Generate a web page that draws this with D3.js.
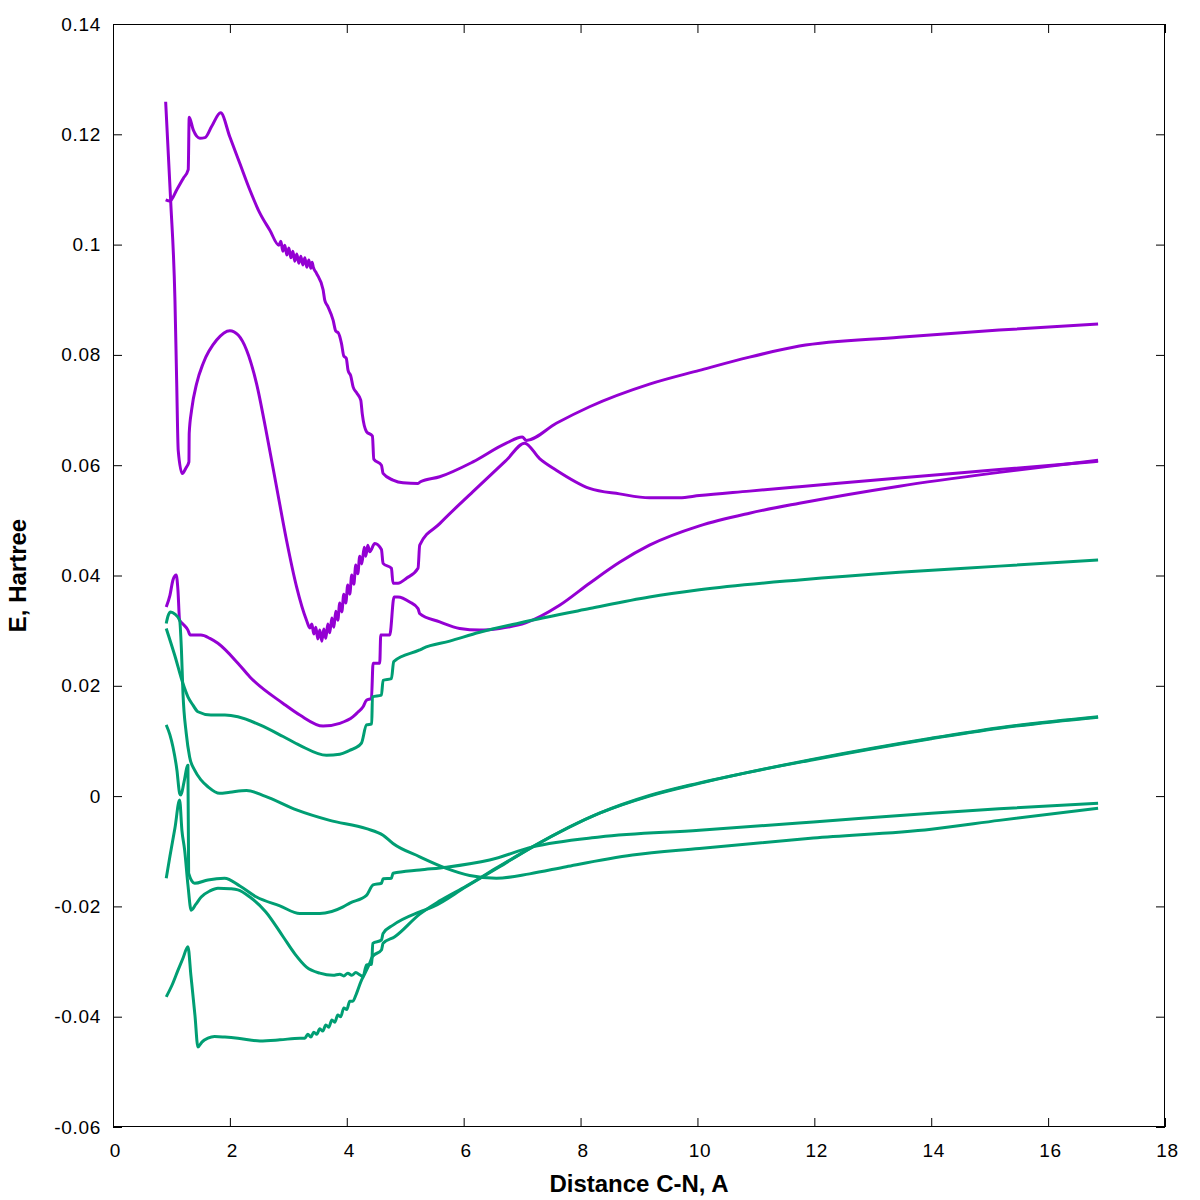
<!DOCTYPE html>
<html><head><meta charset="utf-8">
<script src="https://cdn.jsdelivr.net/npm/d3@7"></script>
<style>
html,body{margin:0;padding:0;background:#fff;}
svg{display:block;}
.tick text{font-family:"Liberation Sans",Arial,sans-serif;font-size:19px;letter-spacing:0.7px;fill:#000;}
.title{font-family:"Liberation Sans",Arial,sans-serif;font-size:24px;font-weight:bold;fill:#000;}
</style></head>
<body>
<svg id="chart" width="1200" height="1200"></svg>
<script>
// ---- Data ----
const xTicks = [0, 2, 4, 6, 8, 10, 12, 14, 16, 18];
const yTicks = [-0.06, -0.04, -0.02, 0, 0.02, 0.04, 0.06, 0.08, 0.1, 0.12, 0.14];
const xTitle = "Distance C-N, A";
const yTitle = "E, Hartree";

// purple series (upper states)
const p1x = [0.901,0.986,1.060,1.089,1.116,1.185,1.248,1.299,1.304,1.345,1.431,1.544,1.773,2.000,2.142,2.285,2.456,2.627,2.798,2.969,3.140,3.311,
  3.368,3.402,3.436,3.470,3.504,3.538,3.573,3.607,3.641,3.675,3.709,3.744,3.778,3.812,3.846,3.880,3.915,3.949,3.983,4.017,4.051,4.085,4.120,4.154,4.188,4.222,4.256,4.299,4.325,4.359,
  4.393,4.479,4.593,4.621,4.764,4.791,4.877,5.021,5.219,5.248,5.590,6.159,6.730,7.043,7.299,7.585,8.154,8.667,9.179,9.692,10.034,10.889,11.744,13.453,15.162,16.855];
const p1y = [0.1259,0.1081,0.0899,0.0754,0.0627,0.0585,0.0595,0.0606,0.0658,0.0700,0.0748,0.0785,0.0827,0.0844,0.0836,0.0809,0.0748,0.0658,0.0561,0.0464,0.0380,0.0319,
  0.0305,0.0312,0.0294,0.0306,0.0285,0.0301,0.0281,0.0303,0.0286,0.0312,0.0296,0.0323,0.0306,0.0335,0.0319,0.0350,0.0334,0.0366,0.0350,0.0383,0.0366,0.0401,0.0384,0.0419,0.0403,0.0435,0.0421,0.0451,0.0435,0.0455,
  0.0443,0.0458,0.0447,0.0422,0.0413,0.0386,0.0386,0.0395,0.0413,0.0455,0.0494,0.0552,0.0609,0.0640,0.0612,0.0591,0.0558,0.0548,0.0541,0.0541,0.0545,0.0553,0.0561,0.0577,0.0592,0.0607];

const p2x = [0.901,0.974,1.089,1.202,1.287,1.304,1.373,1.487,1.573,1.687,1.841,2.000,2.171,2.342,2.513,2.684,2.838,
  2.872,2.906,2.940,2.974,3.009,3.043,3.077,3.111,3.145,3.179,3.214,3.248,3.282,3.316,3.350,3.385,3.407,3.427,
  3.482,3.595,3.624,3.675,3.766,3.812,3.855,3.909,3.949,3.991,4.022,4.068,4.108,4.171,4.239,4.265,4.337,4.439,4.462,4.593,4.621,4.791,4.962,5.219,5.260,
  5.590,6.159,6.730,7.003,7.072,7.585,8.154,9.179,10.034,10.889,11.744,13.453,15.162,16.855];
const p2y = [0.1081,0.1079,0.1099,0.1120,0.1136,0.1231,0.1208,0.1193,0.1194,0.1214,0.1239,0.1195,0.1147,0.1099,0.1057,0.1026,0.0999,
  0.1006,0.0988,0.0999,0.0981,0.0994,0.0976,0.0988,0.0970,0.0983,0.0966,0.0979,0.0963,0.0976,0.0959,0.0972,0.0957,0.0968,0.0959,
  0.0948,0.0918,0.0899,0.0888,0.0863,0.0843,0.0840,0.0821,0.0798,0.0794,0.0772,0.0762,0.0742,0.0731,0.0718,0.0693,0.0661,0.0653,0.0611,0.0600,0.0585,0.0573,0.0568,0.0567,0.0570,
  0.0579,0.0606,0.0640,0.0651,0.0645,0.0676,0.0706,0.0747,0.0772,0.0796,0.0816,0.0832,0.0845,0.0856];

const p3x = [0.911,0.974,1.026,1.082,1.111,1.140,1.197,1.282,1.321,1.504,1.658,1.795,2.137,2.342,2.911,3.197,3.595,3.880,4.108,4.188,4.279,4.337,4.422,
  4.450,4.564,4.581,4.735,4.809,4.877,5.077,5.219,5.248,5.590,5.932,6.274,6.615,7.060,7.641,8.154,8.667,9.179,10.034,10.889,11.744,13.453,15.162,16.855];
const p3y = [0.0343,0.0364,0.0392,0.0401,0.0374,0.0319,0.0312,0.0301,0.0292,0.0292,0.0286,0.0277,0.0241,0.0216,0.0168,0.0147,0.0127,0.0132,0.0144,0.0152,0.0162,0.0174,0.0177,
  0.0241,0.0241,0.0292,0.0292,0.0361,0.0361,0.0352,0.0340,0.0331,0.0316,0.0304,0.0301,0.0304,0.0314,0.0346,0.0386,0.0424,0.0455,0.0490,0.0513,0.0531,0.0562,0.0587,0.0609];

// green series (lower states)
const g1x = [0.911,0.940,0.986,1.060,1.140,1.171,1.197,1.253,1.311,1.397,1.509,1.624,1.824,2.000,2.285,2.598,3.140,3.709,4.337,4.621,4.791,5.248,5.704,6.103,6.559,7.128,7.756,8.889,10.034,11.983,14.000,15.162,16.855];
const g1y = [0.0313,0.0326,0.0334,0.0330,0.0319,0.0265,0.0187,0.0114,0.0071,0.0047,0.0029,0.0017,0.0005,0.0007,0.0010,0.0000,-0.0025,-0.0044,-0.0059,-0.0071,-0.0086,-0.0110,-0.0131,-0.0144,-0.0149,-0.0141,-0.0128,-0.0107,-0.0095,-0.0076,-0.0060,-0.0044,-0.0022];

const g2x = [0.911,1.060,1.197,1.282,1.368,1.453,1.675,1.915,2.137,2.513,2.911,3.197,3.653,3.880,4.051,4.137,4.251,4.337,4.427,4.439,4.593,4.621,4.764,4.803,5.248,5.304,5.761,6.274,6.957,8.154,9.179,10.034,11.744,13.453,15.162,16.855];
const g2y = [0.0304,0.0254,0.0204,0.0180,0.0165,0.0153,0.0147,0.0147,0.0144,0.0129,0.0108,0.0092,0.0074,0.0076,0.0083,0.0087,0.0096,0.0129,0.0131,0.0180,0.0183,0.0210,0.0213,0.0244,0.0265,0.0268,0.0281,0.0297,0.0314,0.0340,0.0361,0.0374,0.0392,0.0406,0.0417,0.0428];

const g3x = [0.911,0.974,1.026,1.094,1.140,1.162,1.214,1.282,1.294,1.397,1.624,1.909,2.171,2.456,2.855,3.197,3.538,3.937,4.051,4.337,4.450,4.593,4.621,4.764,4.791,5.248,5.704,6.444,7.179,8.325,10.034,11.983,14.000,15.162,16.855];
const g3y = [0.0129,0.0111,0.0089,0.0047,0.0005,0.0002,0.0025,0.0056,-0.0140,-0.0158,-0.0152,-0.0149,-0.0163,-0.0183,-0.0199,-0.0213,-0.0213,-0.0201,-0.0194,-0.0180,-0.0161,-0.0158,-0.0150,-0.0149,-0.0140,-0.0134,-0.0129,-0.0116,-0.0092,-0.0074,-0.0062,-0.0047,-0.0031,-0.0023,-0.0013];

const g4x = [0.911,0.974,1.060,1.140,1.179,1.226,1.282,1.338,1.419,1.509,1.658,1.795,2.000,2.137,2.342,2.615,2.911,3.111,3.311,3.538,3.766,3.880,3.949,4.017,4.085,4.154,4.222,4.279,4.337,4.427,4.444,4.593,4.621,4.791,5.248,5.470,6.046,6.615,7.179,8.325,9.179,10.034,11.983,14.000,15.162,16.855];
const g4y = [-0.0149,-0.0109,-0.0058,-0.0007,-0.0062,-0.0098,-0.0161,-0.0207,-0.0196,-0.0183,-0.0172,-0.0167,-0.0168,-0.0170,-0.0183,-0.0210,-0.0255,-0.0286,-0.0310,-0.0321,-0.0325,-0.0323,-0.0326,-0.0321,-0.0325,-0.0320,-0.0324,-0.0327,-0.0306,-0.0305,-0.0267,-0.0261,-0.0249,-0.0234,-0.0210,-0.0201,-0.0164,-0.0128,-0.0092,-0.0031,0.0000,0.0023,0.0067,0.0105,0.0124,0.0144];

const g5x = [0.911,1.009,1.111,1.197,1.282,1.333,1.402,1.453,1.521,1.624,1.738,1.915,2.137,2.513,2.855,3.197,
  3.282,3.333,3.385,3.436,3.487,3.538,3.590,3.641,3.692,3.744,3.795,3.846,3.897,3.949,4.000,4.051,4.103,4.166,
  4.251,4.279,4.393,4.439,4.593,4.621,4.821,5.248,5.590,6.046,6.615,7.179,8.325,9.179,10.034,11.983,14.000,15.162,16.855];
const g5y = [-0.0364,-0.0343,-0.0316,-0.0294,-0.0273,-0.0325,-0.0397,-0.0455,-0.0446,-0.0439,-0.0436,-0.0437,-0.0439,-0.0444,-0.0442,-0.0439,
  -0.0439,-0.0432,-0.0437,-0.0428,-0.0432,-0.0422,-0.0426,-0.0415,-0.0419,-0.0406,-0.0410,-0.0397,-0.0400,-0.0384,-0.0387,-0.0372,-0.0372,-0.0358,
  -0.0334,-0.0328,-0.0303,-0.0291,-0.0279,-0.0267,-0.0255,-0.0214,-0.0190,-0.0163,-0.0127,-0.0092,-0.0031,0.0001,0.0024,0.0066,0.0104,0.0123,0.0143];

// ---- Drawing ----
const purple = "#9400d3", green = "#009e73";
const series = [
  {x: p1x, y: p1y, c: purple}, {x: p2x, y: p2y, c: purple}, {x: p3x, y: p3y, c: purple},
  {x: g1x, y: g1y, c: green}, {x: g2x, y: g2y, c: green}, {x: g3x, y: g3y, c: green},
  {x: g4x, y: g4y, c: green}, {x: g5x, y: g5y, c: green}
];

const L = 113, R = 1165, T = 24, B = 1127;
const x = d3.scaleLinear().domain([0, 18]).range([L, R]);
const y = d3.scaleLinear().domain([-0.06, 0.14]).range([B, T]);
const svg = d3.select("#chart");

svg.append("defs").append("clipPath").attr("id", "clip")
  .append("rect").attr("x", L).attr("y", T).attr("width", R - L).attr("height", B - T);

const fmt = v => String(+v.toFixed(2));

const gL = svg.append("g").attr("transform", `translate(${L},0)`)
  .call(d3.axisLeft(y).tickValues(yTicks).tickFormat(fmt).tickSize(-9).tickPadding(12));
const gR = svg.append("g").attr("transform", `translate(${R},0)`)
  .call(d3.axisRight(y).tickValues(yTicks).tickFormat("").tickSize(-9));
const gB = svg.append("g").attr("transform", `translate(0,${B})`)
  .call(d3.axisBottom(x).tickValues(xTicks).tickFormat(d3.format("d")).tickSize(-9).tickPadding(17));
const gT = svg.append("g").attr("transform", `translate(0,${T})`)
  .call(d3.axisTop(x).tickValues(xTicks).tickFormat("").tickSize(-9));
[gL, gR, gB, gT].forEach(g => {
  g.select(".domain").remove();
  g.selectAll(".tick line").attr("stroke", "#000").attr("stroke-width", 1);
  g.selectAll(".tick text").attr("fill", "#000").style("font-size", "19px");
});
gB.selectAll(".tick text").attr("dx", "2px");
svg.append("rect").attr("x", L + 0.5).attr("y", T + 0.5).attr("width", R - L - 1).attr("height", B - T - 1)
  .attr("fill", "none").attr("stroke", "#000").attr("stroke-width", 1);

const line = d3.line().x(d => x(d[0])).y(d => y(d[1])).curve(d3.curveMonotoneX);
const plot = svg.append("g").attr("clip-path", "url(#clip)");
series.forEach(s => {
  const pts = s.x.map((v, i) => [v, s.y[i]]);
  plot.append("path").datum(pts).attr("d", line)
    .attr("fill", "none").attr("stroke", s.c).attr("stroke-width", 3)
    .attr("stroke-linejoin", "round").attr("stroke-linecap", "butt");
});

svg.append("text").attr("class", "title").attr("x", (L + R) / 2).attr("y", 1192)
  .attr("text-anchor", "middle").text(xTitle);
svg.append("text").attr("class", "title").attr("transform", `translate(26,${(T + B) / 2}) rotate(-90)`)
  .attr("text-anchor", "middle").text(yTitle);
</script>
</body></html>
